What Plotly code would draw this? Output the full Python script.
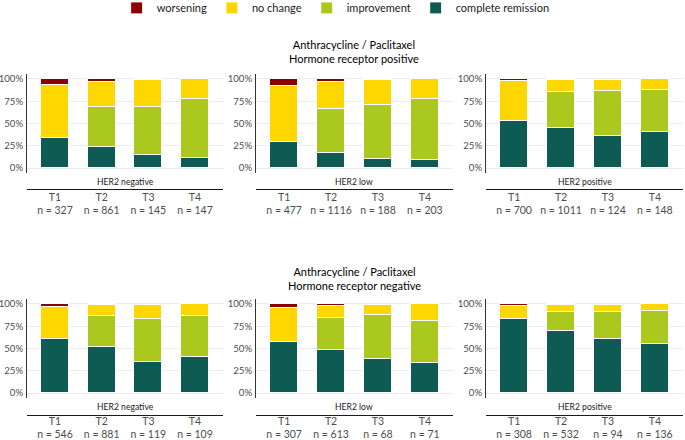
import plotly.graph_objects as go

# ---------------- data ----------------
timepoints = ["T1", "T2", "T3", "T4"]
her2_groups = ["HER2 negative", "HER2 low", "HER2 positive"]
hr_titles = ["Anthracycline / Paclitaxel<br>Hormone receptor positive",
             "Anthracycline / Paclitaxel<br>Hormone receptor negative"]
categories = ["complete remission", "improvement", "no change", "worsening"]
colors = {"worsening": "#8B0000", "no change": "#FFD700",
          "improvement": "#AAC81E", "complete remission": "#0D5B52"}

# sample sizes  [panel][timepoint]
n_hrpos = [[327, 861, 145, 147], [477, 1116, 188, 203], [700, 1011, 124, 148]]
n_hrneg = [[546, 881, 119, 109], [307, 613, 68, 71], [308, 532, 94, 136]]

# shares (fraction) per category, HR positive
hrpos_cr   = [[0.336, 0.231, 0.142, 0.112], [0.295, 0.164, 0.104, 0.093], [0.530, 0.448, 0.358, 0.403]]
hrpos_imp  = [[0.000, 0.459, 0.541, 0.668], [0.000, 0.496, 0.601, 0.679], [0.000, 0.403, 0.504, 0.474]]
hrpos_nc   = [[0.593, 0.276, 0.302, 0.220], [0.627, 0.303, 0.285, 0.228], [0.447, 0.135, 0.131, 0.123]]
hrpos_wor  = [[0.071, 0.034, 0.015, 0.000], [0.078, 0.037, 0.008, 0.000], [0.023, 0.014, 0.000, 0.000]]

# shares (fraction) per category, HR negative
hrneg_cr   = [[0.608, 0.519, 0.347, 0.407], [0.575, 0.485, 0.381, 0.343], [0.828, 0.701, 0.612, 0.545]]
hrneg_imp  = [[0.000, 0.343, 0.489, 0.455], [0.000, 0.355, 0.492, 0.470], [0.000, 0.206, 0.298, 0.380]]
hrneg_nc   = [[0.358, 0.123, 0.157, 0.138], [0.384, 0.141, 0.116, 0.187], [0.150, 0.078, 0.079, 0.075]]
hrneg_wor  = [[0.034, 0.015, 0.000, 0.000], [0.041, 0.019, 0.000, 0.000], [0.022, 0.015, 0.000, 0.000]]

rows = [
    {"n": n_hrpos, "complete remission": hrpos_cr, "improvement": hrpos_imp,
     "no change": hrpos_nc, "worsening": hrpos_wor},
    {"n": n_hrneg, "complete remission": hrneg_cr, "improvement": hrneg_imp,
     "no change": hrneg_nc, "worsening": hrneg_wor},
]

# ---------------- layout geometry (paper coords) ----------------
W, H = 685, 440
FONT = "Lato, Liberation Sans, Arial, sans-serif"
x_dom_px = [(27, 223), (256, 453), (486, 683)]
y_dom_px = [(74, 173), (299, 398)]
xline_px = [189, 415]
xlabel_standoff = [-2, -4]
strip_px = [182, 406.5]
title_px = [52, 278]

def px_x(v):
    return v / W

def px_y(v):
    return 1 - v / H

fig = go.Figure()
layout_axes = {}
annotations = []

k = 0
for r, row in enumerate(rows):
    for p in range(3):
        k += 1
        xa = "x" if k == 1 else f"x{k}"
        ya = "y" if k == 1 else f"y{k}"
        for cat in categories:
            fig.add_trace(go.Bar(
                x=timepoints,
                y=row[cat][p],
                name=cat,
                legendgroup=cat,
                showlegend=(k == 1),
                marker=dict(color=colors[cat], line=dict(color="white", width=1)),
                width=0.6,
                xaxis=xa, yaxis=ya,
                hoverinfo="skip",
            ))
        xd = [px_x(x_dom_px[p][0]), px_x(x_dom_px[p][1])]
        yd = [px_y(y_dom_px[r][1]), px_y(y_dom_px[r][0])]
        xkey = "xaxis" if k == 1 else f"xaxis{k}"
        ykey = "yaxis" if k == 1 else f"yaxis{k}"
        layout_axes[xkey] = dict(
            domain=xd, anchor="free", position=px_y(xline_px[r]),
            type="category", categoryorder="array", categoryarray=timepoints,
            range=[-0.6, 3.6], automargin=False,
            tickvals=timepoints,
            ticktext=[f"{t}<br>n = {n}" for t, n in zip(timepoints, row["n"][p])],
            showline=True, linecolor="#1a1a1a", linewidth=1.3,
            ticks="", showgrid=False, zeroline=False,
            ticklabelstandoff=xlabel_standoff[r],
            tickfont=dict(family=FONT, size=10.5, color="#4d4d4d"),
        )
        layout_axes[ykey] = dict(
            domain=yd, anchor=xa, range=[-0.055, 1.055], automargin=False,
            tickvals=[0, 0.25, 0.5, 0.75, 1.0],
            ticktext=["0%", "25%", "50%", "75%", "100%"],
            showline=True, linecolor="#333333", linewidth=1,
            showgrid=True, gridcolor="#EBEBEB", gridwidth=1,
            zeroline=False, ticks="", ticklabelstandoff=1,
            tickfont=dict(family=FONT, size=9.6, color="#4d4d4d"),
        )
        annotations.append(dict(
            text=her2_groups[p], xref="paper", yref="paper",
            x=(xd[0] + xd[1]) / 2, y=px_y(strip_px[r]),
            xanchor="center", yanchor="middle", showarrow=False,
            font=dict(family=FONT, size=8.6, color="#1a1a1a"),
        ))
    annotations.append(dict(
        text=hr_titles[r], xref="paper", yref="paper",
        x=px_x((x_dom_px[1][0] + x_dom_px[1][1]) / 2), y=px_y(title_px[r]),
        xanchor="center", yanchor="middle", showarrow=False,
        font=dict(family=FONT, size=11, color="#000000"),
    ))

fig.update_layout(
    width=W, height=H,
    margin=dict(l=0, r=0, t=0, b=0, autoexpand=False),
    barmode="stack",
    bargap=0,
    plot_bgcolor="white", paper_bgcolor="white",
    font=dict(family=FONT, size=11, color="#1a1a1a"),
    legend=dict(orientation="h", x=0.49, xanchor="center", y=1.015, yanchor="top",
                traceorder="reversed", font=dict(family=FONT, size=11, color="#1a1a1a"),
                itemwidth=30, bgcolor="rgba(0,0,0,0)"),
    annotations=annotations,
    **layout_axes,
)

fig.write_html("out.html", config={"displayModeBar": False},
               post_script="document.body.style.margin='0';")
